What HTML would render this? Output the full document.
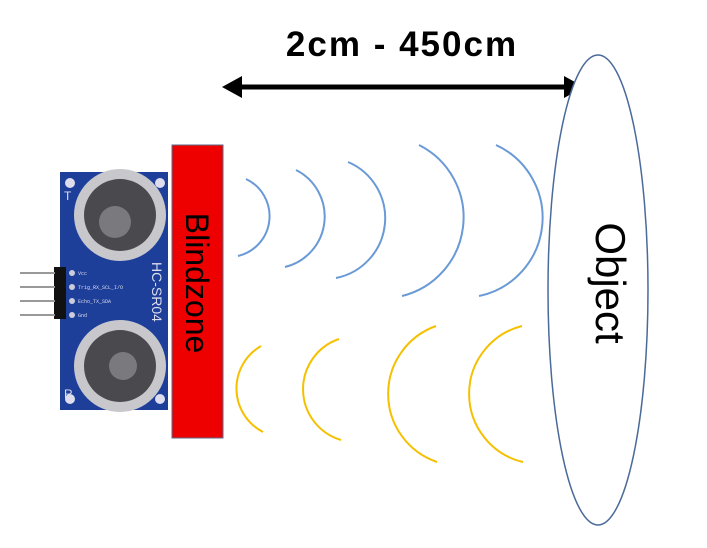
<!DOCTYPE html>
<html><head><style>
html,body{margin:0;padding:0;background:#fff;}
svg{display:block;}
</style></head><body>
<svg width="707" height="548" viewBox="0 0 707 548" xmlns="http://www.w3.org/2000/svg">
<!-- sensor board -->
<rect x="60" y="172" width="108" height="238" fill="#1d3f9a"/>
<circle cx="70" cy="183" r="5" fill="#dde"/><circle cx="160" cy="183" r="5" fill="#dde"/>
<circle cx="70" cy="399" r="5" fill="#dde"/><circle cx="160" cy="399" r="5" fill="#dde"/>
<g>
<circle cx="120" cy="215" r="46" fill="#c8c8cc"/><circle cx="120" cy="215" r="36" fill="#4a4a4e"/><circle cx="115" cy="222" r="16" fill="#7a7a7e"/>
<circle cx="120" cy="366" r="46" fill="#c8c8cc"/><circle cx="120" cy="366" r="36" fill="#4a4a4e"/><circle cx="123" cy="366" r="14" fill="#7a7a7e"/>
</g>
<rect x="54" y="267" width="12" height="52" fill="#111"/>
<g stroke="#999" stroke-width="2"><line x1="20" y1="273" x2="55" y2="273"/><line x1="20" y1="287" x2="55" y2="287"/><line x1="20" y1="301" x2="55" y2="301"/><line x1="20" y1="315" x2="55" y2="315"/></g>
<g fill="#ccd"><circle cx="72" cy="273" r="3"/><circle cx="72" cy="287" r="3"/><circle cx="72" cy="301" r="3"/><circle cx="72" cy="315" r="3"/></g>
<g font-family="Liberation Mono, monospace" font-size="5" fill="#dde"><text x="78" y="275">Vcc</text><text x="78" y="289">Trig_RX_SCL_I/O</text><text x="78" y="303">Echo_TX_SDA</text><text x="78" y="317">Gnd</text></g>
<text transform="translate(152,262) rotate(90)" font-family="Liberation Sans, sans-serif" font-size="14" fill="#dde">HC-SR04</text>
<text x="64" y="200" font-family="Liberation Sans, sans-serif" font-size="12" fill="#dde">T</text>
<text x="64" y="398" font-family="Liberation Sans, sans-serif" font-size="12" fill="#dde">R</text>
<!-- blindzone -->
<rect x="172" y="145" width="51" height="293" fill="#ee0000" stroke="#5a6a8a" stroke-width="1"/>
<text transform="translate(186,283) rotate(90)" text-anchor="middle" font-family="Liberation Sans, sans-serif" font-size="32" fill="#000">Blindzone</text>
<!-- arrow -->
<line x1="235" y1="87" x2="570" y2="87" stroke="#000" stroke-width="5"/>
<polygon points="222,87 242,76 242,98" fill="#000"/>
<polygon points="584,87 564,76 564,98" fill="#000"/>
<text x="402" y="56" text-anchor="middle" font-family="Liberation Sans, sans-serif" font-weight="bold" font-size="35" letter-spacing="2" fill="#000">2cm - 450cm</text>
<!-- object -->
<ellipse cx="598" cy="290" rx="50" ry="235" fill="#fff" stroke="#4a6a9a" stroke-width="1.5"/>
<text transform="translate(596,283) rotate(90)" text-anchor="middle" font-family="Liberation Sans, sans-serif" font-size="42" fill="#000">Object</text>
<!-- waves -->
<g fill="none" stroke="#6a9ad6" stroke-width="2">
<path d="M246,179 A41,41 0 0 1 238,256"/>
<path d="M296,170 A52,52 0 0 1 285,267"/>
<path d="M348,162 A61,61 0 0 1 336,278"/>
<path d="M419,145 A81,81 0 0 1 402,296"/>
<path d="M496,145 A80,80 0 0 1 479,296"/>
</g>
<g fill="none" stroke="#f5c000" stroke-width="2">
<path d="M261,346 A49,49 0 0 0 263,432"/>
<path d="M339,339 A53,53 0 0 0 341,440"/>
<path d="M436,326 A72,72 0 0 0 437,462"/>
<path d="M522,326 A70,70 0 0 0 523,462"/>
</g>
</svg>
</body></html>
